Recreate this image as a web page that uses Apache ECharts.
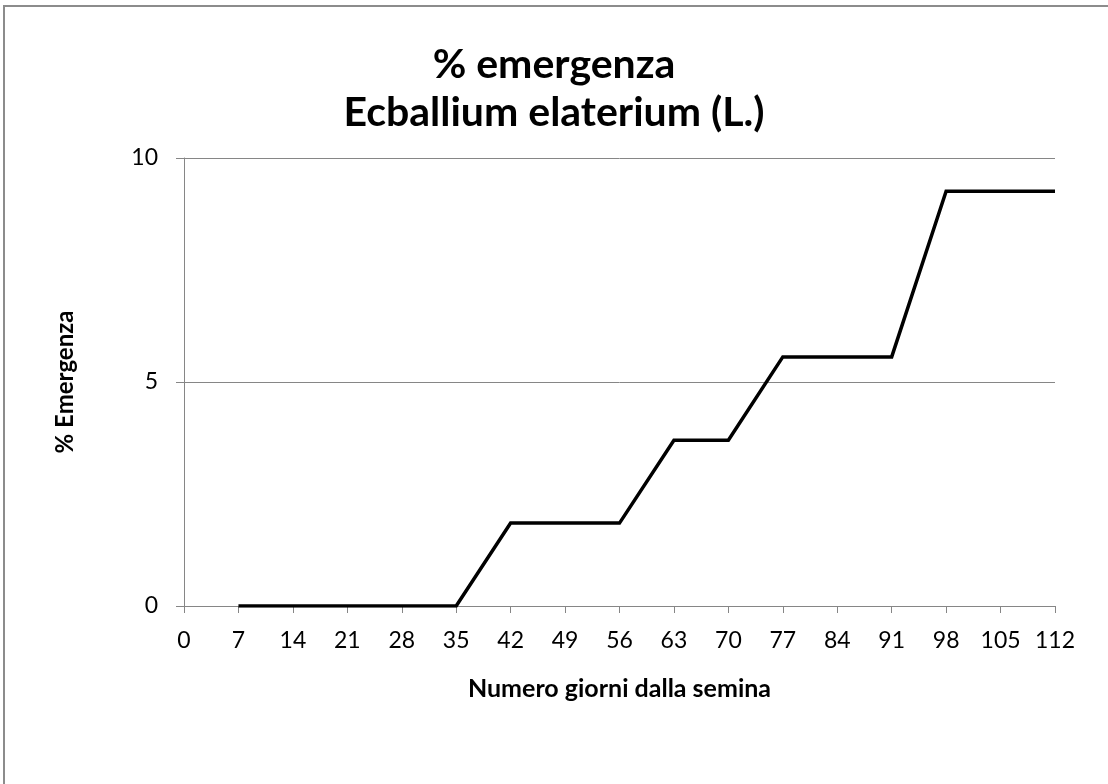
<!DOCTYPE html>
<html>
<head>
<meta charset="utf-8">
<script src="https://cdn.jsdelivr.net/npm/echarts@6/dist/echarts.min.js"></script>
<style>
  html, body { margin: 0; padding: 0; background: #fff; }
  #wrap { position: absolute; left: 0; top: 0; width: 1108px; height: 784px; overflow: hidden; }
  #frame { position: absolute; left: 3px; top: 5px; width: 1200px; height: 900px;
           border-top: 2px solid #8c8c8c; border-left: 2px solid #8c8c8c; }
  #chart { position: absolute; left: 0; top: 0; width: 1108px; height: 784px; }
</style>
</head>
<body>
<div id="wrap">
  <div id="frame"></div>
  <div id="chart"></div>
</div>
<script>
// Days after sowing and cumulative emergence percentage
const days = [7, 14, 21, 28, 35, 42, 49, 56, 63, 70, 77, 84, 91, 98, 105, 112];
const emergence = [0, 0, 0, 0, 0, 1.85, 1.85, 1.85, 3.70, 3.70, 5.56, 5.56, 5.56, 9.26, 9.26, 9.26];

const titleLines = ['% emergenza', 'Ecballium elaterium (L.)'];
const xName = 'Numero giorni dalla semina';
const yName = '% Emergenza';

const font = 'Lato, "Open Sans", sans-serif';
const chart = echarts.init(document.getElementById('chart'), null, { renderer: 'canvas' });

chart.setOption({
  animation: false,
  backgroundColor: 'transparent',
  title: {
    text: titleLines.join('\n'),
    left: 'center',
    top: 36,
    textStyle: { fontFamily: font, fontSize: 41, fontWeight: 'bold', color: '#000', lineHeight: 48 }
  },
  grid: { left: 184, right: 53, top: 158, bottom: 178, containLabel: false },
  xAxis: {
    type: 'value',
    min: 0, max: 112, interval: 7,
    name: xName,
    nameLocation: 'middle',
    nameGap: 70,
    nameTextStyle: { fontFamily: font, fontSize: 25, fontWeight: 'bold', color: '#000' },
    axisLine: { show: true, lineStyle: { color: '#868686', width: 1 } },
    axisTick: { show: true, length: 7, lineStyle: { color: '#868686' } },
    axisLabel: { fontFamily: font, fontSize: 23, color: '#000', margin: 23 },
    splitLine: { show: false }
  },
  yAxis: {
    type: 'value',
    min: 0, max: 10, interval: 5,
    name: yName,
    nameLocation: 'middle',
    nameGap: 107,
    nameRotate: 90,
    nameTextStyle: { fontFamily: font, fontSize: 24, fontWeight: 'bold', color: '#000' },
    axisLine: { show: true, lineStyle: { color: '#868686', width: 1 } },
    axisTick: { show: true, length: 8, lineStyle: { color: '#868686' } },
    axisLabel: { fontFamily: font, fontSize: 23, color: '#000', margin: 26 },
    splitLine: { show: true, lineStyle: { color: '#868686', width: 1 } }
  },
  series: [{
    type: 'line',
    data: days.map((d, i) => [d, emergence[i]]),
    showSymbol: false,
    symbol: 'none',
    lineStyle: { color: '#000', width: 3.5, join: 'miter' },
    itemStyle: { color: '#000' }
  }]
});
</script>
</body>
</html>
